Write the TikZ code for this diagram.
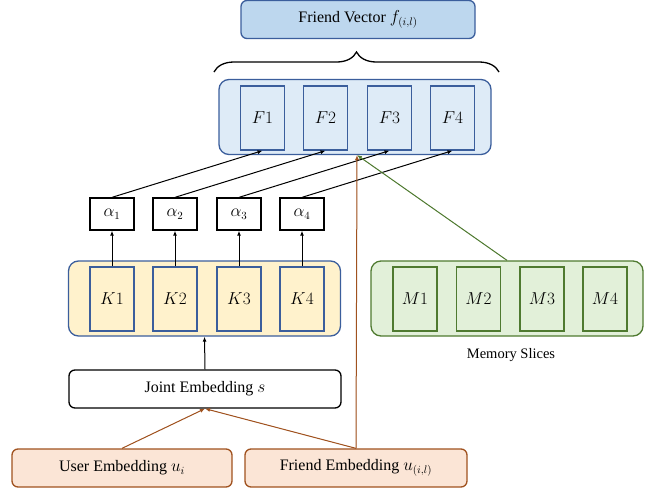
\documentclass[tikz,border=0pt]{standalone}
\usepackage{fontspec}
\setmainfont{Liberation Serif}
\usetikzlibrary{arrows.meta, decorations.pathreplacing}

\definecolor{vecblue}{HTML}{BDD7EE}
\definecolor{lightblue}{HTML}{DEEBF7}
\definecolor{edgeblue}{HTML}{3B5E9C}
\definecolor{keyyellow}{HTML}{FFF2CC}
\definecolor{memgreen}{HTML}{E2F0D9}
\definecolor{edgegreen}{HTML}{4F7A30}
\definecolor{embpeach}{HTML}{FBE5D6}
\definecolor{edgebrown}{HTML}{A0521F}

\begin{document}
\begin{tikzpicture}[x=1pt, y=-1pt, font=\fontsize{16}{19}\selectfont,
    outer/.style={draw, rounded corners=10pt, line width=1.3pt, minimum width=272pt, minimum height=75pt},
    slot/.style={draw, line width=1.3pt, minimum width=44pt, minimum height=64pt},
    weight/.style={draw, line width=1.3pt, fill=white, minimum width=44pt, minimum height=32pt},
    embed/.style={draw, rounded corners=6pt, line width=1.3pt, minimum height=38pt},
    arr/.style={-{Latex[length=5pt, width=4pt]}, line width=1pt}]
    \useasboundingbox (0,0) rectangle (651,491);

    % Vetor do amigo
    \node[embed, fill=vecblue, draw=edgeblue, minimum width=234pt] (fvec) at (358, 19.5) {Friend Vector $f_{(i,l)}$};
    \draw[decorate, decoration={brace, amplitude=20pt}, line width=1.3pt] (214, 72) -- (499, 72);

    % Fatias F
    \node[outer, fill=lightblue, draw=edgeblue] (fcont) at (355, 117) {};
    \node[slot, fill=lightblue, draw=edgeblue] (f1) at (262.5, 118) {$F1$};
    \node[slot, fill=lightblue, draw=edgeblue] (f2) at (325.5, 118) {$F2$};
    \node[slot, fill=lightblue, draw=edgeblue] (f3) at (389.5, 118) {$F3$};
    \node[slot, fill=lightblue, draw=edgeblue] (f4) at (452.5, 118) {$F4$};

    % Pesos de atencao
    \node[weight] (a1) at (112, 214) {$\alpha_1$};
    \node[weight] (a2) at (175, 214) {$\alpha_2$};
    \node[weight] (a3) at (239, 214) {$\alpha_3$};
    \node[weight] (a4) at (302, 214) {$\alpha_4$};

    % Chaves K
    \node[outer, fill=keyyellow, draw=edgeblue] (kcont) at (204.5, 298.5) {};
    \node[slot, fill=keyyellow, draw=edgeblue] (k1) at (112, 299) {$K1$};
    \node[slot, fill=keyyellow, draw=edgeblue] (k2) at (175, 299) {$K2$};
    \node[slot, fill=keyyellow, draw=edgeblue] (k3) at (239, 299) {$K3$};
    \node[slot, fill=keyyellow, draw=edgeblue] (k4) at (302, 299) {$K4$};

    % Memoria M
    \node[outer, fill=memgreen, draw=edgegreen] (mcont) at (507, 298.5) {};
    \node[slot, fill=memgreen, draw=edgegreen] (m1) at (415, 299) {$M1$};
    \node[slot, fill=memgreen, draw=edgegreen] (m2) at (478.5, 299) {$M2$};
    \node[slot, fill=memgreen, draw=edgegreen] (m3) at (542, 299) {$M3$};
    \node[slot, fill=memgreen, draw=edgegreen] (m4) at (605, 299) {$M4$};
    \node[font=\fontsize{14.5}{17}\selectfont] (mlabel) at (511, 355) {Memory Slices};

    % Embeddings
    \node[embed, fill=white, minimum width=272pt] (joint) at (205, 389) {Joint Embedding $s$};
    \node[embed, fill=embpeach, draw=edgebrown, minimum width=220pt] (user) at (122, 468) {User Embedding $u_i$};
    \node[embed, fill=embpeach, draw=edgebrown, minimum width=222pt] (friend) at (356, 468) {Friend Embedding $u_{(i,l)}$};

    % K -> alpha -> F
    \draw[arr] (k1.north) -- (a1.south);
    \draw[arr] (k2.north) -- (a2.south);
    \draw[arr] (k3.north) -- (a3.south);
    \draw[arr] (k4.north) -- (a4.south);
    \draw[arr] (a1.north) -- (f1.south);
    \draw[arr] (a2.north) -- (f2.south);
    \draw[arr] (a3.north) -- (f3.south);
    \draw[arr] (a4.north) -- (f4.south);

    % Entradas
    \draw[arr] (joint.north) -- (kcont.south);
    \draw[arr, draw=edgebrown, fill=edgebrown] (user.north) -- (joint.south);
    \draw[arr, draw=edgebrown, fill=edgebrown] (friend.north) -- (joint.south);
    \coordinate (fin) at (357, 155);
    \draw[arr, draw=edgebrown, fill=edgebrown] (friend.north) -- (fin);
    \draw[arr, draw=edgegreen, fill=edgegreen] (mcont.north) -- (fin);
\end{tikzpicture}
\end{document}
